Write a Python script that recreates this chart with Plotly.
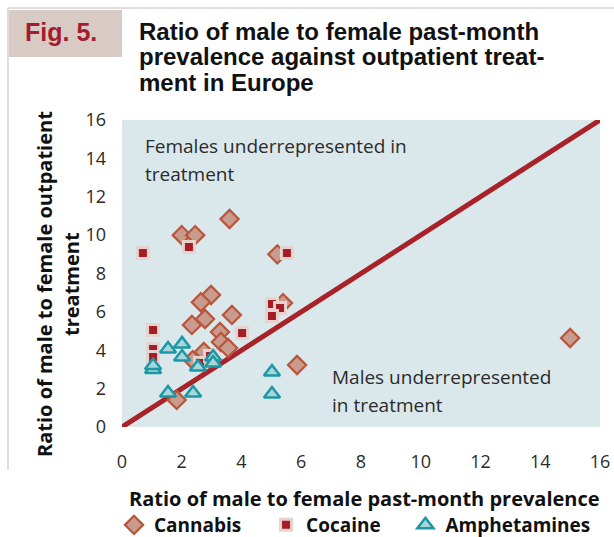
import plotly.graph_objects as go

# ── Data ──────────────────────────────────────────────────────────────────────
cannabis_x = [2.0, 2.45, 3.6, 5.2, 2.98, 2.64, 5.39, 2.78, 2.34, 3.68,
              3.28, 3.31, 3.55, 2.37, 2.74, 5.86, 1.83, 15.0]
cannabis_y = [10.0, 10.0, 10.84, 9.0, 6.88, 6.5, 6.46, 5.63, 5.32, 5.84,
              4.95, 4.43, 4.12, 3.49, 3.91, 3.23, 1.41, 4.64]

cocaine_x = [0.7, 2.24, 5.52, 5.02, 5.29, 5.02, 4.02, 1.04, 1.04, 1.04, 2.61, 2.95]
cocaine_y = [9.07, 9.38, 9.07, 6.41, 6.2, 5.78, 4.9, 5.05, 4.06, 3.65, 3.33, 3.7]

amph_x = [1.04, 1.04, 1.54, 2.01, 2.01, 2.54, 3.05, 3.05, 1.54, 2.38, 5.02, 5.02]
amph_y = [3.0, 3.2, 4.06, 4.33, 3.65, 3.13, 3.65, 3.33, 1.77, 1.77, 2.87, 1.72]

parity_x = [0, 16]
parity_y = [0, 16]

x_ticks = [0, 2, 4, 6, 8, 10, 12, 14, 16]
y_ticks = [0, 2, 4, 6, 8, 10, 12, 14, 16]

# ── Colours ───────────────────────────────────────────────────────────────────
PLOT_BG = "#dbe8eb"
LINE_RED = "#a8222a"
DIAMOND_FILL = "#c99b8c"
DIAMOND_EDGE = "#b9553b"
SQUARE_FILL = "#a51c24"
SQUARE_EDGE = "#e6d2ce"
TRI_FILL = "#a9d6db"
TRI_EDGE = "#1c97a5"
TEXT = "#2b2b2b"
BOX = "#d8cac5"
FRAME = "#e3dcd9"

W, H = 614, 537
PLOT_LEFT, PLOT_RIGHT, PLOT_TOP, PLOT_BOTTOM = 122, 600, 120, 427
L, T = PLOT_LEFT, PLOT_TOP
R, B = W - PLOT_RIGHT, H - PLOT_BOTTOM
PW, PH = PLOT_RIGHT - PLOT_LEFT, PLOT_BOTTOM - PLOT_TOP


def px(x):
    return (x - PLOT_LEFT) / PW


def py(y):
    return (PLOT_BOTTOM - y) / PH


SANS = "Open Sans, Noto Sans, sans-serif"
BOLD_SANS = "Liberation Sans, Arial, sans-serif"
PAD = "\u00a0" * 4  # extra room between legend entries

fig = go.Figure()

fig.add_trace(go.Scatter(
    x=parity_x, y=parity_y, mode="lines",
    line=dict(color=LINE_RED, width=5),
    showlegend=False, hoverinfo="skip", cliponaxis=False,
))

fig.add_trace(go.Scatter(
    x=cannabis_x, y=cannabis_y, mode="markers", name="Cannabis" + PAD,
    marker=dict(symbol="diamond", size=14, color=DIAMOND_FILL,
                line=dict(color=DIAMOND_EDGE, width=2.2)),
))
fig.add_trace(go.Scatter(
    x=cocaine_x, y=cocaine_y, mode="markers", name="Cocaine" + PAD,
    marker=dict(symbol="square", size=11, color=SQUARE_FILL,
                line=dict(color=SQUARE_EDGE, width=3)),
))
fig.add_trace(go.Scatter(
    x=amph_x, y=amph_y, mode="markers", name="Amphetamines",
    marker=dict(symbol="triangle-up", size=14, color=TRI_FILL,
                line=dict(color=TRI_EDGE, width=2.5)),
))

fig.update_xaxes(
    range=[0, 16], tickvals=x_ticks, showgrid=False, zeroline=False,
    showline=False, ticks="", ticklabelstandoff=22, automargin=False,
    tickfont=dict(family=SANS, size=18, color=TEXT),
)
fig.update_yaxes(
    range=[0, 16], tickvals=y_ticks, showgrid=False, zeroline=False,
    showline=False, ticks="", ticklabelstandoff=15, automargin=False,
    tickfont=dict(family=SANS, size=18, color=TEXT),
)

TITLE_FONT = dict(family=BOLD_SANS, size=24, color="#111111")
NOTE_FONT = dict(family=SANS, size=19, color=TEXT)
AXIS_FONT = dict(family=SANS, size=20, color="#111111")

annotations = [
    dict(x=px(61), y=py(32), text="<b>Fig. 5.</b>", font=dict(family=BOLD_SANS, size=25, color="#a51c2c")),
    dict(x=px(137), y=py(31), text="<b>Ratio of male to female past-month</b>", xanchor="left", font=TITLE_FONT),
    dict(x=px(137), y=py(57), text="<b>prevalence against outpatient treat-</b>", xanchor="left", font=TITLE_FONT),
    dict(x=px(137), y=py(83), text="<b>ment in Europe</b>", xanchor="left", font=TITLE_FONT),
    dict(x=px(143), y=py(146), text="Females underrepresented in", xanchor="left", font=NOTE_FONT),
    dict(x=px(143), y=py(174), text="treatment", xanchor="left", font=NOTE_FONT),
    dict(x=px(330), y=py(377), text="Males underrepresented", xanchor="left", font=NOTE_FONT),
    dict(x=px(330), y=py(405), text="in treatment", xanchor="left", font=NOTE_FONT),
    dict(x=px(44), y=py(284), text="<b>Ratio of male to female outpatient</b>", textangle=-90, font=AXIS_FONT),
    dict(x=px(71), y=py(284), text="<b>treatment</b>", textangle=-90, font=AXIS_FONT),
    dict(x=px(364), y=py(498), text="<b>Ratio of male to female past-month prevalence</b>", font=AXIS_FONT),
]
for a in annotations:
    a.setdefault("xanchor", "center")
    a.update(xref="paper", yref="paper", showarrow=False, yanchor="middle")
fig.update_layout(annotations=annotations)

fig.add_shape(type="rect", xref="paper", yref="paper", layer="below",
              x0=px(8), x1=px(122), y0=py(57), y1=py(10),
              fillcolor=BOX, line=dict(width=0))
fig.add_shape(type="line", xref="paper", yref="paper",
              x0=px(8), x1=px(614), y0=py(8), y1=py(8),
              line=dict(color=FRAME, width=2))
fig.add_shape(type="line", xref="paper", yref="paper",
              x0=px(8), x1=px(8), y0=py(8), y1=py(470),
              line=dict(color=FRAME, width=2))

fig.update_layout(
    width=W, height=H,
    margin=dict(l=L, r=R, t=T, b=B, autoexpand=False),
    paper_bgcolor="white",
    plot_bgcolor=PLOT_BG,
    showlegend=True,
    legend=dict(
        orientation="h", xref="container", yref="container",
        x=114 / W, xanchor="left", y=1 - 525 / H, yanchor="middle",
        font=dict(family=SANS, size=19, color="#111111", weight="bold"),
        bgcolor="rgba(0,0,0,0)", tracegroupgap=0,
    ),
)

# drop the browser's default body margin so the figure fills the window
fig.write_html(
    "out.html",
    config={"displayModeBar": False},
    post_script="document.body.style.margin='0';"
                "document.documentElement.style.overflow='hidden';",
)
